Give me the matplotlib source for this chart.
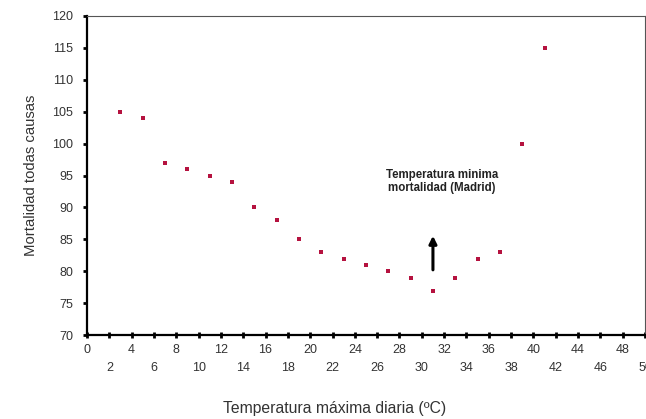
import matplotlib
matplotlib.use("Agg")
import matplotlib.pyplot as plt

temps = [3, 5, 7, 9, 11, 13, 15, 17, 19, 21, 23, 25, 27, 29, 31, 33, 35, 37, 39, 41]
mort = [105, 104, 97, 96, 95, 94, 90, 88, 85, 83, 82, 81, 80, 79, 77, 79, 82, 83, 100, 115]
xticks = list(range(0, 51, 2))
yticks = list(range(70, 121, 5))
annot_text = "Temperatura minima\nmortalidad (Madrid)"
min_temp = 31
arrow_from = 79.8
arrow_to = 86.0

plt.rcParams['font.family'] = ['Liberation Sans', 'DejaVu Sans']

fig = plt.figure(figsize=(6.46, 4.19), dpi=100)
ax = fig.add_axes([0.1347, 0.2, 0.8637, 0.762])

ax.scatter(temps, mort, marker='s', s=12, color='#b5123f', zorder=3, linewidths=0)

ax.set_xlim(0, 50)
ax.set_ylim(70, 120)
ax.set_xticks(xticks)
ax.set_xticklabels([str(t) for t in xticks])
ax.set_yticks(yticks)
ax.set_yticklabels([str(t) for t in yticks])

for i, tk in enumerate(ax.xaxis.get_major_ticks()):
    if i % 2 == 1:
        tk.set_pad(17)
    else:
        tk.set_pad(4)

ax.tick_params(axis='both', colors='black', labelcolor='#333333', labelsize=9,
               width=2, length=3)
ax.tick_params(axis='y', pad=7)
ax.tick_params(axis='x', direction='inout', length=4)

for s in ['left', 'bottom']:
    ax.spines[s].set_linewidth(1.6)
    ax.spines[s].set_color('black')
for s in ['top', 'right']:
    ax.spines[s].set_linewidth(0.8)
    ax.spines[s].set_color('#555555')

ax.set_ylabel('Mortalidad todas causas', fontsize=10.7, color='#333333', labelpad=10)
ax.set_xlabel('Temperatura máxima diaria (ºC)', fontsize=11.3, color='#333333', labelpad=20)
ax.xaxis.set_label_coords(0.444, -0.205)

ax.annotate('', xy=(min_temp, arrow_to), xytext=(min_temp, arrow_from),
            arrowprops=dict(arrowstyle='-|>', color='black', lw=2.2, mutation_scale=11))
ax.text(min_temp + 0.8, 94.0, annot_text, ha='center', va='center', fontsize=8.3,
        fontweight='bold', color='#222222', linespacing=1.1)

fig.savefig('out.png', dpi=100, facecolor='white')
